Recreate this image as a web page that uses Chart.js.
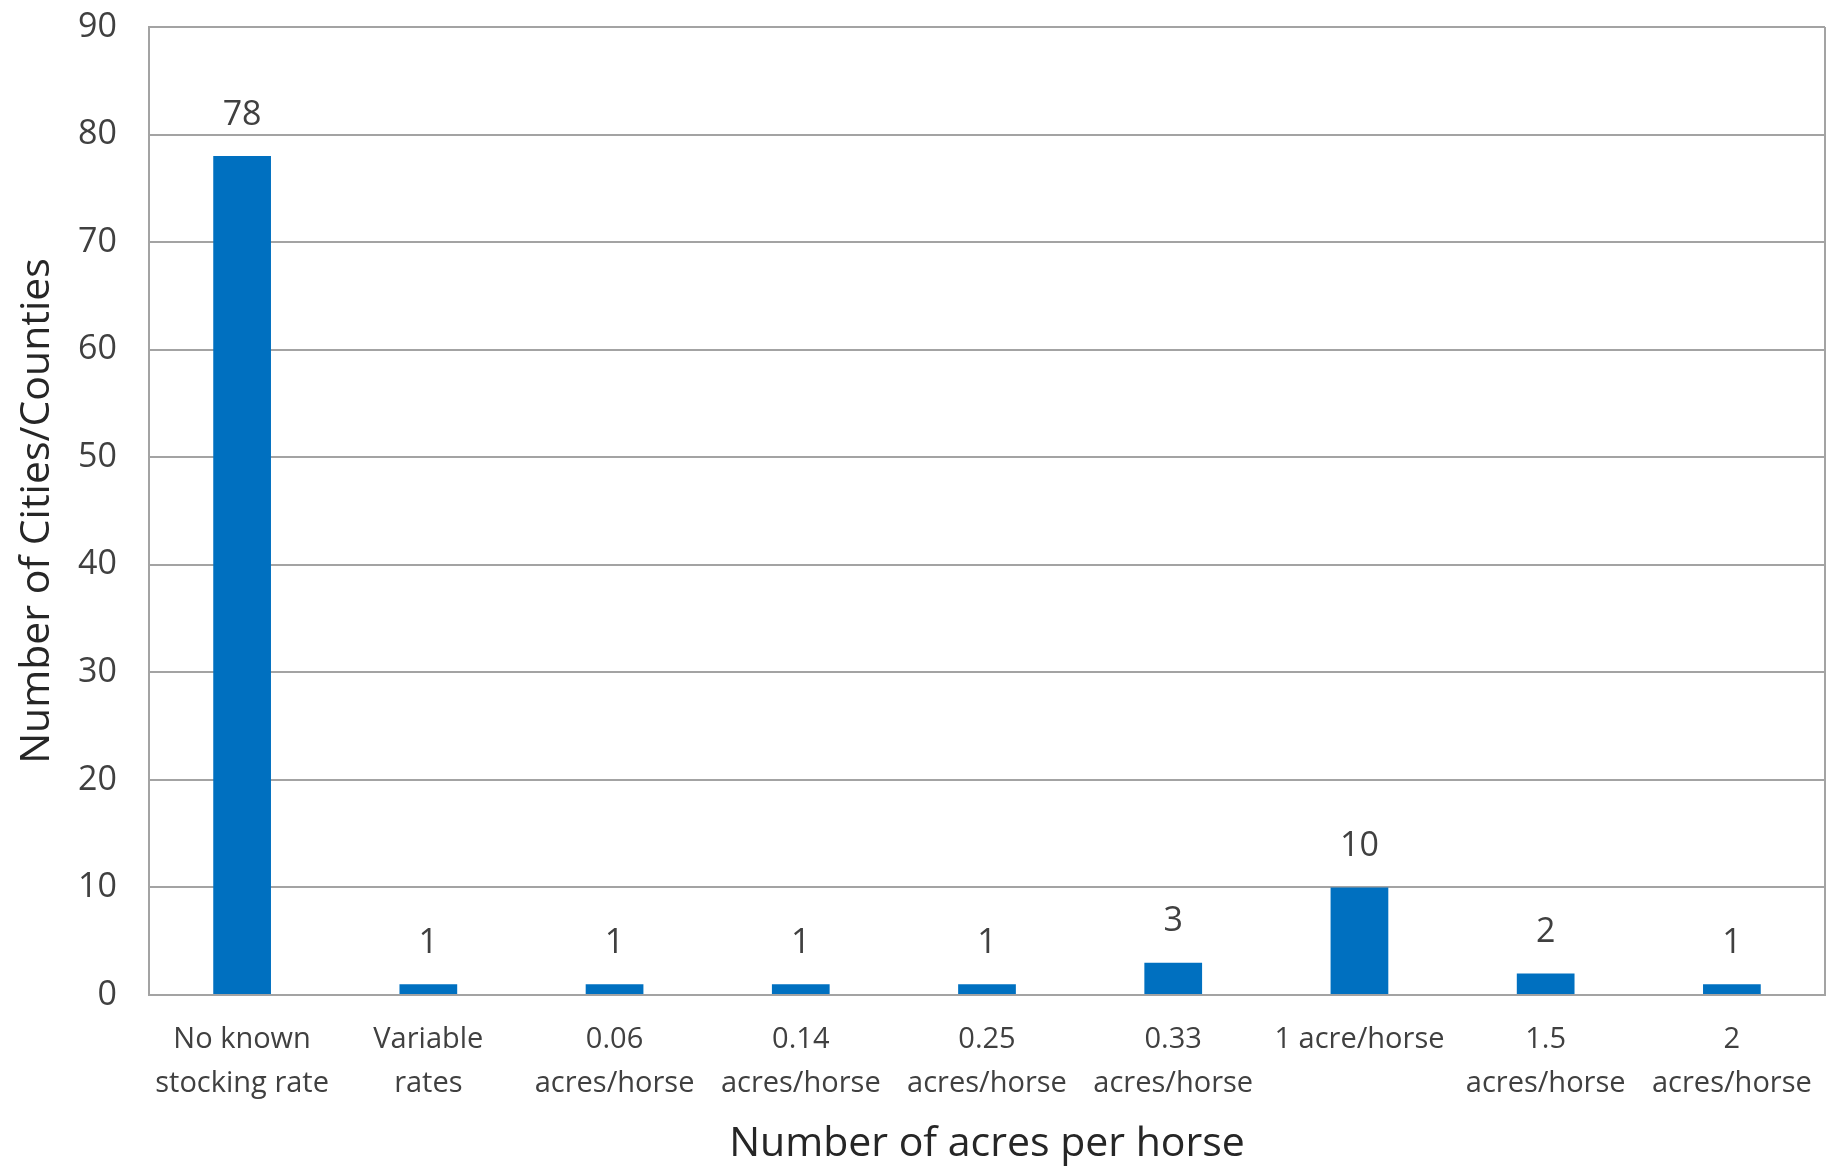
<!DOCTYPE html>
<html>
<head>
<meta charset="utf-8">
<script src="https://cdn.jsdelivr.net/npm/chart.js@4"></script>
<style>
  html, body { margin: 0; padding: 0; background: #fff; }
  #wrap { width: 1827px; height: 1169px; }
</style>
</head>
<body>
<div id="wrap"><canvas id="chart"></canvas></div>
<script>
const categories = [
    ["No known", "stocking rate"],
    ["Variable", "rates"],
    ["0.06", "acres/horse"],
    ["0.14", "acres/horse"],
    ["0.25", "acres/horse"],
    ["0.33", "acres/horse"],
    "1 acre/horse",
    ["1.5", "acres/horse"],
    ["2", "acres/horse"],
];
const counts = [78, 1, 1, 1, 1, 3, 10, 2, 1];
const yTicks = [0, 10, 20, 30, 40, 50, 60, 70, 80, 90];

const FONT = "'Open Sans', sans-serif";
const GRID = "#a3a3a3";

// value labels above each bar
const barValues = {
    id: "barValues",
    afterDatasetsDraw(chart) {
        const ctx = chart.ctx;
        const meta = chart.getDatasetMeta(0);
        ctx.save();
        ctx.font = "34px " + FONT;
        ctx.fillStyle = "#404040";
        ctx.textAlign = "center";
        ctx.textBaseline = "middle";
        meta.data.forEach((bar, i) => {
            ctx.fillText(String(counts[i]), bar.x, bar.y - 41);
        });
        ctx.restore();
    }
};

// right edge of the plot frame
const frame = {
    id: "frame",
    beforeDatasetsDraw(chart) {
        const {ctx, chartArea} = chart;
        ctx.save();
        ctx.strokeStyle = GRID;
        ctx.lineWidth = 2;
        ctx.beginPath();
        ctx.moveTo(chartArea.right, chartArea.top);
        ctx.lineTo(chartArea.right, chartArea.bottom);
        ctx.stroke();
        ctx.restore();
    }
};

new Chart(document.getElementById("chart"), {
    type: "bar",
    data: {
        labels: categories,
        datasets: [{
            data: counts,
            backgroundColor: "#0070c0",
            borderWidth: 0,
            barPercentage: 0.31,
            categoryPercentage: 1,
        }]
    },
    options: {
        responsive: true,
        maintainAspectRatio: false,
        animation: false,
        layout: { padding: { top: 27, right: 2, left: 0, bottom: 0 } },
        plugins: {
            legend: { display: false },
            tooltip: { enabled: false },
        },
        scales: {
            x: {
                grid: { display: false, drawTicks: false },
                border: { display: true, color: GRID, width: 2 },
                ticks: {
                    color: "#404040",
                    font: { family: FONT, size: 29, lineHeight: 1.52 },
                    padding: 23,
                    maxRotation: 0,
                    autoSkip: false,
                },
                title: {
                    display: true,
                    text: "Number of acres per horse",
                    color: "#262626",
                    font: { family: FONT, size: 41 },
                    padding: { top: 0, bottom: 0 },
                },
                afterFit(scale) {
                    scale.height = 174;
                    scale.paddingLeft = 0;
                    scale.paddingRight = 0;
                },
            },
            y: {
                min: 0,
                max: 90,
                afterBuildTicks(scale) {
                    scale.ticks = yTicks.map(v => ({ value: v }));
                },
                grid: { color: GRID, lineWidth: 2, drawTicks: false },
                border: { display: true, color: GRID, width: 2 },
                ticks: {
                    color: "#404040",
                    font: { family: FONT, size: 34 },
                    padding: 32,
                },
                title: {
                    display: true,
                    text: "Number of Cities/Counties",
                    color: "#262626",
                    font: { family: FONT, size: 41 },
                    padding: { top: 13, bottom: 0 },
                },
                afterFit(scale) {
                    scale.width = 149;
                    scale.paddingTop = 0;
                    scale.paddingBottom = 0;
                },
            }
        }
    },
    plugins: [barValues, frame]
});
</script>
</body>
</html>
